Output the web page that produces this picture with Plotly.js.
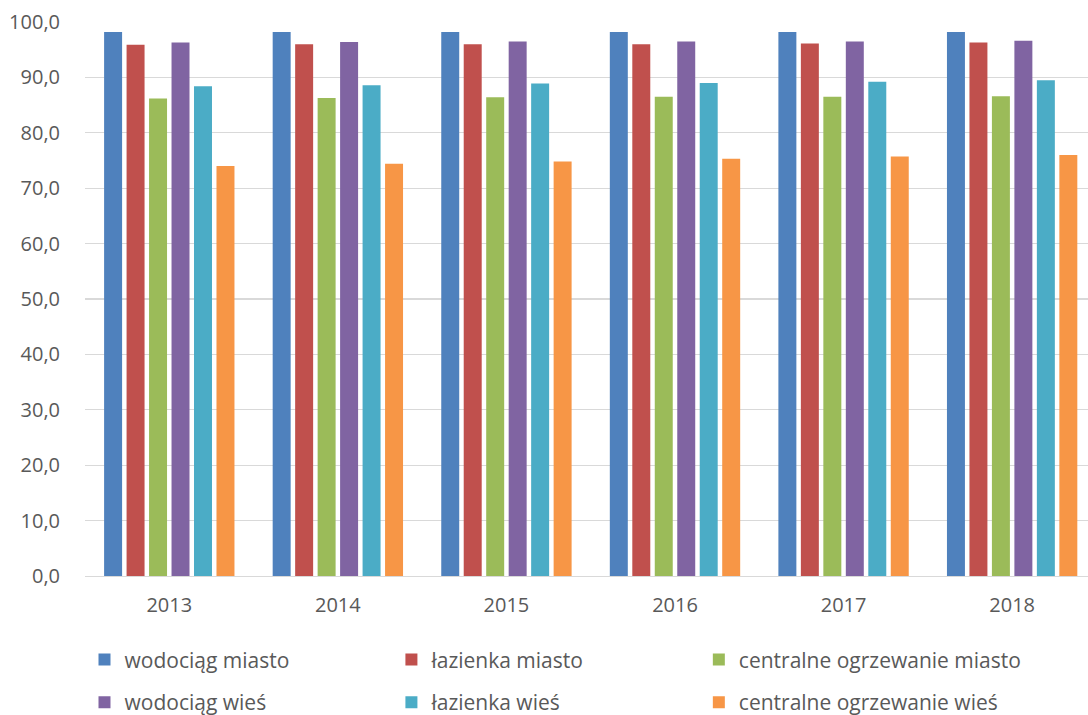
<!DOCTYPE html>
<html>
<head>
<meta charset="utf-8">
<script src="https://cdn.plot.ly/plotly-3.0.1.min.js"></script>
<style>html,body{margin:0;padding:0;background:#fff;overflow:hidden}#chart{width:1088px;height:715px}</style>
</head>
<body>
<div id="chart"></div>
<script>
const years = ['2013','2014','2015','2016','2017','2018'];
const seriesNames = ['wodociąg miasto','łazienka miasto','centralne ogrzewanie miasto','wodociąg wieś','łazienka wieś','centralne ogrzewanie wieś'];
const wodociagMiasto = [98.2, 98.2, 98.2, 98.2, 98.2, 98.2];
const lazienkaMiasto = [95.9, 96.0, 96.0, 96.0, 96.1, 96.3];
const coMiasto = [86.2, 86.3, 86.4, 86.5, 86.5, 86.6];
const wodociagWies = [96.3, 96.4, 96.5, 96.5, 96.5, 96.6];
const lazienkaWies = [88.4, 88.6, 88.9, 89.0, 89.2, 89.5];
const coWies = [74.0, 74.4, 74.8, 75.3, 75.7, 76.0];
const colors = ['#4F81BD','#C0504D','#9BBB59','#8064A2','#4BACC6','#F79646'];
const values = [wodociagMiasto, lazienkaMiasto, coMiasto, wodociagWies, lazienkaWies, coWies];

const font = 'Open Sans, Liberation Sans, sans-serif';
const legendIds = ['legend','legend2','legend3','legend4','legend5','legend6'];
const traces = values.map((v, i) => ({
  type: 'bar', x: years, y: v, name: seriesNames[i],
  marker: {color: colors[i], line: {width: 0}},
  legend: legendIds[i],
  hoverinfo: 'x+y+name'
}));

const legendXs = [-0.0005, 0.3055, 0.612];
const legendYs = [-0.1515, -0.2285];

const layout = {
  width: 1088, height: 715,
  margin: {l: 85, r: 0, t: 22, b: 139, autoexpand: false},
  paper_bgcolor: '#ffffff', plot_bgcolor: '#ffffff',
  separators: ', ',
  barmode: 'group', bargap: 0.2, bargroupgap: 0.2,
  showlegend: true,
  xaxis: {
    type: 'category', range: [-0.5, 5.45],
    showgrid: false, showline: true, linecolor: '#d9d9d9', linewidth: 1.3,
    ticks: '', ticklabelstandoff: 11,
    tickfont: {family: font, size: 20, color: '#595959'}, zeroline: false
  },
  yaxis: {
    range: [0, 100], dtick: 10, tick0: 0, tickformat: '.1f',
    showgrid: true, gridcolor: '#d9d9d9', gridwidth: 1.3, zeroline: false,
    showline: false, ticks: '', ticklabelstandoff: 24,
    tickfont: {family: font, size: 20, color: '#595959'}
  },
  font: {family: font, color: '#595959'}
};
legendIds.forEach((id, i) => {
  layout[id] = {
    orientation: 'h', xref: 'paper', yref: 'paper',
    x: legendXs[i % 3], y: legendYs[Math.floor(i / 3)],
    xanchor: 'left', yanchor: 'middle',
    font: {family: font, size: 21, color: '#595959'}, bgcolor: 'rgba(0,0,0,0)'
  };
});

Plotly.newPlot('chart', traces, layout, {displayModeBar: false, staticPlot: true});
</script>
</body>
</html>
